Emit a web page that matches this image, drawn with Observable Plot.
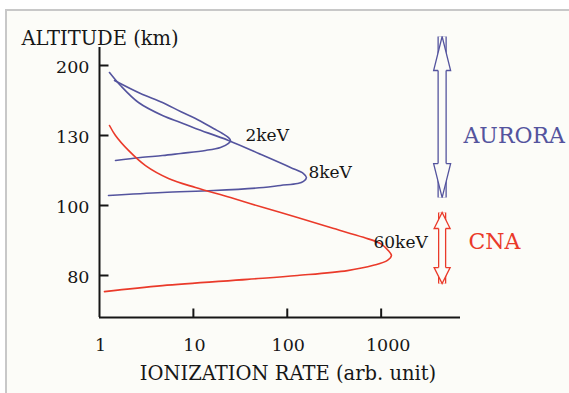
<!DOCTYPE html>
<html><head><meta charset="utf-8">
<script src="https://cdn.jsdelivr.net/npm/d3@7"></script>
<script src="https://cdn.jsdelivr.net/npm/@observablehq/plot@0.6"></script>
<style>
html,body{margin:0;padding:0;background:#fff;}
#wrap{position:relative;width:569px;height:393px;overflow:hidden;background:#fff;}
#paper{position:absolute;left:5px;top:9px;right:0;bottom:0;border-left:2px solid #c8c8c8;border-top:2px solid #c8c8c8;background:#fcfcf8;}
#chart{position:absolute;left:0;top:0;}
</style></head><body>
<div id="wrap"><div id="paper"></div><div id="chart"></div></div>
<script>
// ---- data ----
const rate2keV = [1.445,2.733,4.688,7.29,10.53,16.37,20.41,23.65,24.85,23.65,19.44,13.45,7.29,4.688,2.733,1.48];
const alt2keV  = [185,172,163,154,147,137,132,129.1,127.9,126.6,124.9,123.6,122.3,121.4,120.6,119.3];
const rate8keV = [1.278,1.673,2.602,4.688,7.29,10.53,23.65,55.8,108.2,148.8,160.1,148.8,128.4,84.6,55.8,16.37,4.688,1.247];
const alt8keV  = [193,180,163,150,143,137,127.9,121.4,116.3,113.7,112.0,110.3,109.4,108.6,107.7,106.4,105.6,104.3];
const rate60keV = [1.278,1.48,2.036,3.09,5.43,10.53,24.85,55.8,128.4,288.5,648,983,1196,1287,1167,828,437.7,128.4,37.7,4.688,1.13];
const alt60keV  = [140,130,123.6,117.1,111.6,107.7,103.4,99.4,96.6,93.7,90.9,89.1,87.1,85.7,84.3,82.9,81.4,80.0,78.9,77.1,75.4];

const seriesNames = ["2keV", "8keV", "60keV"];
const labelRate = [35.9, 168, 828];
const labelAlt  = [130, 114.3, 89.4];

const xTicks = [1, 10, 100, 1000];
const yTicks = [80, 100, 130, 200];
const yAxisTitle = "ALTITUDE (km)";
const xAxisTitle = "IONIZATION RATE (arb. unit)";

const bandNames  = ["AURORA", "CNA"];
const bandTop    = [229, 98];     // altitude at upper arrow tip
const bandBottom = [103.4, 77.7]; // altitude at lower arrow tip
const bandLabelAlt = [130, 89.6];
const bandArrowRate = 4460;
const bandLabelRate = [7530, 8500];

// ---- build tables ----
const toRows = (name, r, a) => r.map((v, i) => ({series: name, rate: v, alt: a[i]}));
const curves = [
  toRows("2keV", rate2keV, alt2keV),
  toRows("8keV", rate8keV, alt8keV),
  toRows("60keV", rate60keV, alt60keV)
];
const labels = seriesNames.map((s, i) => ({text: s, rate: labelRate[i], alt: labelAlt[i]}));
const bands = bandNames.map((n, i) => ({name: n, top: bandTop[i], bottom: bandBottom[i], labelAlt: bandLabelAlt[i], labelRate: bandLabelRate[i]}));

// ---- styles ----
const BLUE = "#54549e";
const RED = "#ea3a2a";
const INK = "#161616";
const BG = "#fcfcf8";
const curveColor = {"2keV": BLUE, "8keV": BLUE, "60keV": RED};
const bandColor = [BLUE, RED];
const headDims = [{w: 17, h: 34, s: 8}, {w: 16, h: 16, s: 7}];

function headSymbol(w, h, s, dir) {
  return {draw(ctx) {
    ctx.moveTo(-s / 2, dir * h); ctx.lineTo(-w / 2, dir * h); ctx.lineTo(0, 0);
    ctx.lineTo(w / 2, dir * h); ctx.lineTo(s / 2, dir * h);
  }};
}
const tickRight = {draw(ctx) { ctx.moveTo(0, 0); ctx.lineTo(9, 0); }};
const tickUp = {draw(ctx) { ctx.moveTo(0, 0); ctx.lineTo(0, -9); }};

const X0 = 1, XMAX = 7000, YMIN = 68, YMAX = 218;

const bandMarks = bands.flatMap((b, i) => {
  const d = headDims[i], c = bandColor[i];
  return [
    Plot.link([b], {x1: () => bandArrowRate, x2: () => bandArrowRate, y1: "bottom", y2: "top", stroke: c, strokeWidth: d.s + 1.3}),
    Plot.link([b], {x1: () => bandArrowRate, x2: () => bandArrowRate, y1: "bottom", y2: "top", stroke: BG, strokeWidth: d.s - 1.3}),
    Plot.dot([b], {x: () => bandArrowRate, y: "top", symbol: headSymbol(d.w, d.h, d.s, 1), fill: BG, stroke: c, strokeWidth: 1.3}),
    Plot.dot([b], {x: () => bandArrowRate, y: "bottom", symbol: headSymbol(d.w, d.h, d.s, -1), fill: BG, stroke: c, strokeWidth: 1.3}),
    Plot.text([b], {x: "labelRate", y: "labelAlt", text: "name", fill: c, fontSize: 22, textAnchor: "start"})
  ];
});

const chart = Plot.plot({
  width: 569, height: 393, margin: 0,
  style: {background: "transparent", overflow: "visible", fontFamily: "'DejaVu Serif', serif"},
  x: {type: "log", domain: [X0, XMAX], range: [99, 460], axis: null},
  y: {type: "linear", domain: [YMIN, 80, 100, 130, 200, YMAX], range: [317, 275, 205, 135, 65, 47], axis: null},
  marks: [
    // axes
    Plot.ruleX([X0], {y1: YMIN, y2: YMAX, stroke: INK, strokeWidth: 2}),
    Plot.ruleY([YMIN], {x1: X0, x2: XMAX, stroke: INK, strokeWidth: 2}),
    Plot.dot(yTicks, {x: () => X0, y: d => d, symbol: tickRight, stroke: INK, strokeWidth: 2, fill: "none"}),
    Plot.dot(xTicks.slice(1), {x: d => d, y: () => YMIN, symbol: tickUp, stroke: INK, strokeWidth: 2, fill: "none"}),
    Plot.text(yTicks, {x: () => X0, y: d => d, text: d => String(d), textAnchor: "end", dx: -10, dy: 1.5, fontSize: 17.5, fill: INK}),
    Plot.text(xTicks.slice(0, 3), {x: d => d, y: () => YMIN, text: d => String(d), dy: 28, dx: 1, fontSize: 17.5, fill: INK}),
    Plot.text(xTicks.slice(3), {x: d => d, y: () => YMIN, text: d => String(d), dy: 28, dx: 7, fontSize: 17.5, fill: INK}),
    Plot.text([yAxisTitle], {frameAnchor: "top-left", dx: 21, dy: 31, text: d => d, textAnchor: "start", fontSize: 19.5, fill: INK}),
    Plot.text([xAxisTitle], {frameAnchor: "bottom", dx: 3, dy: -14, text: d => d, fontSize: 19.5, fill: INK}),
    // curves
    ...curves.map(rows => Plot.line(rows, {x: "rate", y: "alt", stroke: curveColor[rows[0].series], strokeWidth: 1.6, curve: "catmull-rom"})),
    Plot.text(labels, {x: "rate", y: "alt", text: "text", textAnchor: "start", fontSize: 17, fill: INK}),
    // bands
    ...bandMarks
  ]
});
document.getElementById("chart").appendChild(chart);
</script>
</body></html>
